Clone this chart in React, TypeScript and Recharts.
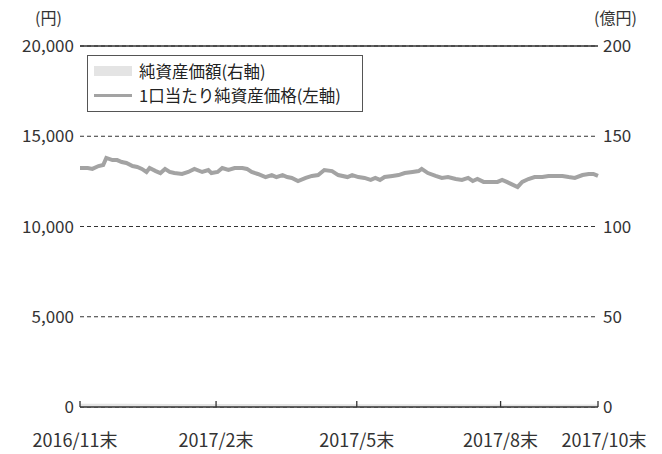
import {
  ComposedChart,
  Line,
  Area,
  XAxis,
  YAxis,
  CartesianGrid,
  ReferenceLine,
} from 'recharts';

// days counted from 2016/11末
const days = [
  0, 5, 8, 12, 15, 17, 21, 24, 27, 30, 34, 37, 40, 43, 45, 49, 52, 55, 58, 61,
  66, 70, 74, 79, 83, 85, 89, 92, 96, 100, 105, 108, 111, 115, 120, 124, 127, 131, 134, 137,
  141, 146, 150, 154, 158, 163, 167, 173, 176, 180, 184, 188, 191, 194, 197, 202, 206, 210, 215, 219,
  221, 225, 230, 234, 238, 243, 247, 251, 254, 257, 261, 265, 270, 273, 276, 279, 283, 286, 290, 294,
  299, 303, 307, 312, 316, 320, 325, 329, 332, 335,
];

// 1口当たり純資産価格 (円)
const navPerUnit = [
  13240, 13240, 13190, 13350, 13410, 13800, 13680, 13680, 13570, 13520, 13350, 13300, 13190, 13020, 13240, 13070, 12960, 13190, 13020, 12960,
  12910, 13020, 13190, 13020, 13130, 12960, 13020, 13240, 13130, 13240, 13240, 13190, 13020, 12910, 12740, 12850, 12740, 12850, 12740, 12690,
  12520, 12690, 12800, 12850, 13130, 13070, 12850, 12740, 12850, 12740, 12690, 12580, 12690, 12580, 12740, 12800, 12850, 12960, 13020, 13070,
  13190, 12960, 12800, 12690, 12740, 12630, 12580, 12690, 12520, 12630, 12470, 12470, 12470, 12580, 12470, 12350, 12190, 12470, 12630, 12740,
  12740, 12800, 12800, 12800, 12740, 12690, 12850, 12910, 12910, 12800,
];

// 純資産価額 (億円)
const netAssetDays = [0, 30, 61, 89, 120, 150, 180, 210, 243, 273, 303, 335];
const netAssets = [1.8, 1.8, 1.7, 1.7, 1.6, 1.6, 1.5, 1.5, 1.5, 1.4, 1.4, 1.4];

const xTicks = [0, 88, 179, 272, 335];
const xTickLabels = ['2016/11末', '2017/2末', '2017/5末', '2017/8末', '2017/10末'];
const leftTicks = [0, 5000, 10000, 15000, 20000];
const rightTicks = [0, 50, 100, 150, 200];

const data = days.map((day, i) => {
  const k = netAssetDays.indexOf(day);
  return { day, nav: navPerUnit[i], assets: k >= 0 ? netAssets[k] : null };
});

const TEXT = '#333';
const LINE = '#a3a3a3';
const FILL = '#e4e4e4';

const XTick = ({ x, y, payload }: any) => {
  const i = xTicks.indexOf(payload.value);
  // outer labels sit a little outward in the original
  const dx = i === 0 ? -5 : i === xTicks.length - 1 ? 6 : 0;
  return (
    <g>
      <line x1={x} x2={x} y1={y} y2={y - 6} stroke={TEXT} strokeWidth={1.3} />
      <text x={x + dx} y={y + 40} textAnchor="middle" fontSize={18} fill={TEXT}>
        {xTickLabels[i]}
      </text>
    </g>
  );
};

export default function App() {
  return (
    <div style={{
      position: 'relative',
      width: 646,
      height: 446,
      fontFamily: '"Noto Sans CJK JP", "Noto Sans", sans-serif',
    }}>
      <div style={{ position: 'absolute', left: 27, top: -3, fontSize: 16, color: TEXT }}>(円)</div>
      <div style={{ position: 'absolute', left: 586, top: -3, fontSize: 16, color: TEXT }}>(億円)</div>

      {/* legend box */}
      <div style={{
        position: 'absolute',
        top: 47,
        left: 79,
        zIndex: 2,
        border: '1px solid #555',
        width: 276,
        height: 57,
        boxSizing: 'border-box',
        background: '#fff',
        padding: '3px 0 0 6px',
        fontSize: 16.5,
        color: '#222',
        lineHeight: '24px',
      }}>
        <div style={{ display: 'flex', alignItems: 'center' }}>
          <span style={{ display: 'inline-block', width: 38, height: 10, background: FILL, marginRight: 7 }} />
          純資産価額(右軸)
        </div>
        <div style={{ display: 'flex', alignItems: 'center' }}>
          <span style={{ display: 'inline-block', width: 38, height: 3, background: LINE, marginRight: 7 }} />
          1口当たり純資産価格(左軸)
        </div>
      </div>

      <ComposedChart
        width={646}
        height={446}
        data={data}
        margin={{ top: 38, right: 6, left: 12, bottom: 4 }}
      >
        <CartesianGrid yAxisId="left" vertical={false} stroke={TEXT} strokeDasharray="4 3" />
        <XAxis
          dataKey="day"
          type="number"
          domain={[0, 335]}
          ticks={xTicks}
          tick={<XTick />}
          tickSize={0}
          tickMargin={0}
          height={43}
          interval={0}
          axisLine={{ stroke: TEXT, strokeWidth: 1.5 }}
        />
        <YAxis
          yAxisId="left"
          domain={[0, 20000]}
          ticks={leftTicks}
          width={60}
          axisLine={false}
          tickLine={false}
          tickSize={0}
          tickMargin={6}
          tick={{ fontSize: 17, fill: TEXT }}
          tickFormatter={(v) => v.toLocaleString()}
        />
        <YAxis
          yAxisId="right"
          orientation="right"
          domain={[0, 200]}
          ticks={rightTicks}
          width={50}
          axisLine={false}
          tickLine={false}
          tickSize={0}
          tickMargin={5}
          tick={{ fontSize: 17, fill: TEXT }}
        />
        <ReferenceLine yAxisId="left" y={20000} stroke={TEXT} strokeWidth={1.5} />
        <Area
          yAxisId="right"
          dataKey="assets"
          type="linear"
          stroke="none"
          fill={FILL}
          fillOpacity={1}
          connectNulls
          isAnimationActive={false}
        />
        <Line
          yAxisId="left"
          dataKey="nav"
          type="linear"
          stroke={LINE}
          strokeWidth={4}
          dot={false}
          isAnimationActive={false}
        />
      </ComposedChart>
    </div>
  );
}
